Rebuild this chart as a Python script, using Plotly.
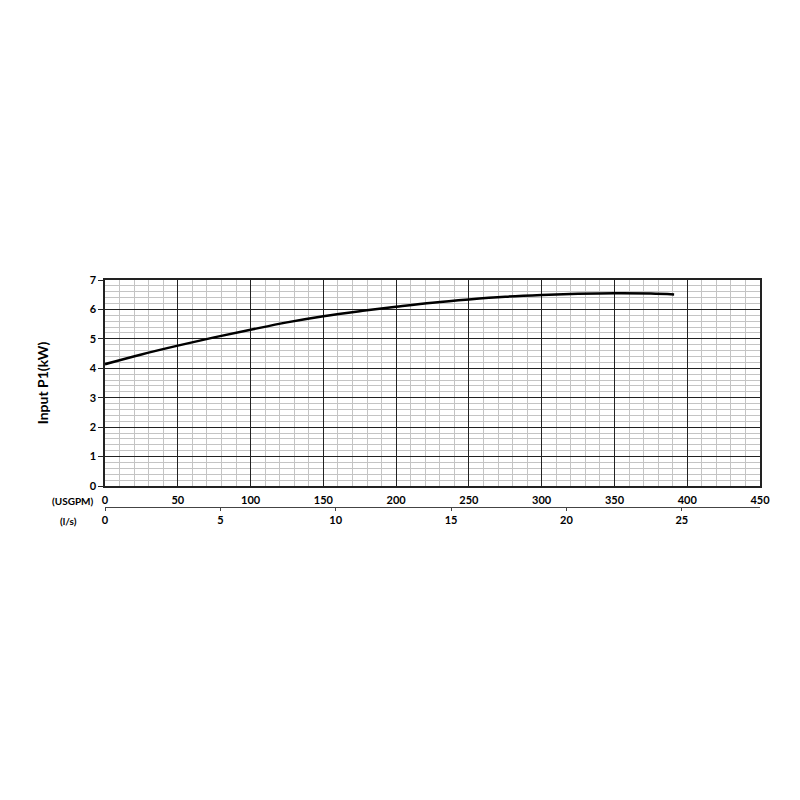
import plotly.graph_objects as go

# pump input power curve
flow_usgpm = [0, 25, 50, 75, 100, 125, 150, 175, 200, 225, 250, 275, 300, 325, 350, 375, 391]
power_kw = [4.14, 4.47, 4.77, 5.05, 5.31, 5.56, 5.77, 5.94, 6.09, 6.23, 6.34, 6.43, 6.49, 6.53, 6.55, 6.54, 6.51]

USGPM_TO_LPS = 0.0630902
x_max_usgpm = 450
usgpm_ticks = [0, 50, 100, 150, 200, 250, 300, 350, 400, 450]
lps_ticks = [0, 5, 10, 15, 20, 25]
kw_ticks = [0, 1, 2, 3, 4, 5, 6, 7]

font_family = "Lato"
tick_font = dict(family=font_family, size=11, color="black", weight="bold")
label_font = dict(family=font_family, size=10, color="black", weight="bold")

fig = go.Figure()
fig.add_trace(go.Scatter(x=flow_usgpm, y=power_kw, mode="lines",
                         line=dict(color="black", width=2.5, shape="spline"),
                         showlegend=False))
# dummy trace so the l/s axis gets drawn
fig.add_trace(go.Scatter(x=[f * USGPM_TO_LPS for f in flow_usgpm], y=power_kw,
                         xaxis="x2", mode="lines", opacity=0, hoverinfo="skip",
                         showlegend=False))

# page body adds an 8px offset, so positions are shifted back by it
off = 8
left, right = 105 - off, 760 - off
top, bottom_axis2 = 280 - off, 507 - off
plot_w = right - left
plot_h = bottom_axis2 - top
y_dom0 = 21 / plot_h

fig.update_layout(
    width=800, height=800,
    paper_bgcolor="white", plot_bgcolor="white",
    margin=dict(l=left, r=800 - right, t=top, b=800 - bottom_axis2),
    font=dict(family=font_family, color="black"),
    xaxis=dict(range=[0, x_max_usgpm], tickvals=usgpm_ticks, tickfont=tick_font,
               showgrid=True, gridcolor="#222", gridwidth=1.3,
               minor=dict(dtick=10, showgrid=True, gridcolor="#c4c4c4", gridwidth=1.4),
               showline=True, linecolor="#222", linewidth=1.5, mirror=True,
               ticks="", ticklabelstandoff=3, zeroline=False, anchor="y",
               automargin=False),
    xaxis2=dict(range=[0, x_max_usgpm * USGPM_TO_LPS], tickvals=lps_ticks, tickfont=tick_font,
                overlaying="x", anchor="free", position=0, side="bottom",
                showgrid=False, showline=True, linecolor="#444", linewidth=1.3,
                ticks="outside", ticklen=3, tickcolor="#444", zeroline=False,
                automargin=False),
    yaxis=dict(domain=[y_dom0, 1], range=[0, 7], tickvals=kw_ticks, tickfont=tick_font,
               showgrid=True, gridcolor="#222", gridwidth=1.3,
               minor=dict(dtick=0.2, showgrid=True, gridcolor="#c4c4c4", gridwidth=1.4),
               showline=True, linecolor="#222", linewidth=1.5, mirror=True,
               ticks="outside", ticklen=5, tickcolor="#222", zeroline=False,
               automargin=False,
               title=dict(text="Input P1(kW)", standoff=38,
                          font=dict(family=font_family, size=14, color="black", weight="bold"))),
)

fig.add_annotation(text="(USGPM)", xref="paper", yref="paper", x=(96 - off - left) / plot_w,
                   y=(bottom_axis2 - (501 - off)) / plot_h,
                   xanchor="right", yanchor="middle", showarrow=False, font=label_font)
fig.add_annotation(text="(l/s)", xref="paper", yref="paper", x=(79 - off - left) / plot_w,
                   y=(bottom_axis2 - (521 - off)) / plot_h,
                   xanchor="right", yanchor="middle", showarrow=False, font=label_font)

fig.write_html("out.html")
